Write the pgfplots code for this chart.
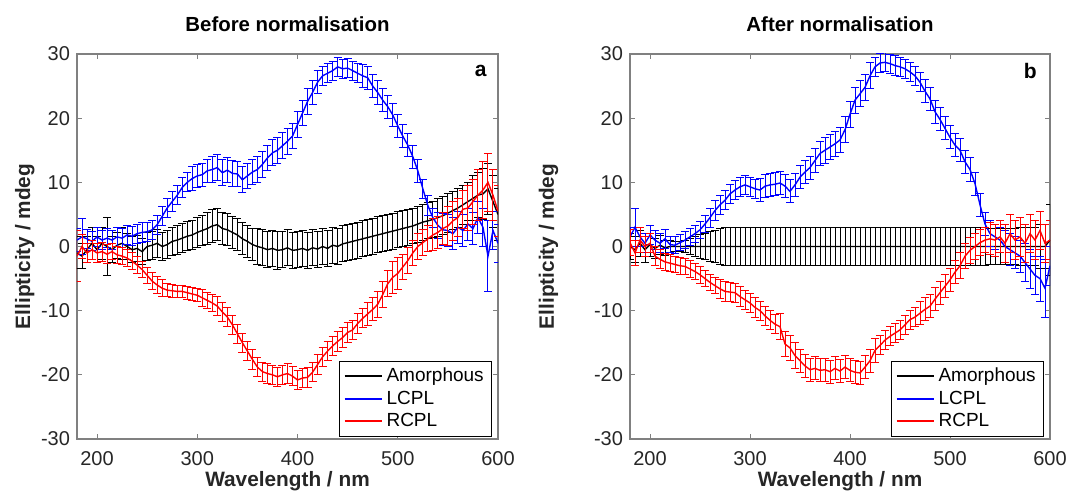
\documentclass[border=0pt]{standalone}
\usepackage{fontspec}
\setmainfont{Liberation Sans}
\usepackage{pgfplots}
\usepackage{pgfplotstable}
\pgfplotsset{compat=1.18}
\definecolor{axgray}{RGB}{128,128,128}
\definecolor{txt}{RGB}{38,38,38}

\pgfplotstableread{
x am ame lc lce rc rce
180 -1.0 2.5 1.0 1.8 -1.5 4.0
185 -1.5 2.0 1.5 2.8 0.0 1.8
190 -0.5 2.0 1.2 1.5 -1.0 1.5
195 0.5 2.5 0.8 1.5 -0.5 1.5
200 -0.5 2.0 1.5 1.5 -1.0 1.5
205 0.5 2.5 1.0 1.5 -0.8 1.5
210 0.0 4.5 1.3 1.5 -1.2 1.5
215 -0.5 2.0 1.0 1.5 -0.8 1.3
220 0.2 2.0 1.5 1.5 -1.3 1.3
225 0.5 2.5 1.3 1.5 -1.5 1.3
230 0.0 2.0 1.8 1.5 -1.8 1.3
235 -0.5 2.0 1.6 1.5 -2.3 1.3
240 -0.3 2.0 2.0 1.5 -2.9 1.3
245 -0.8 2.0 2.2 1.5 -3.6 1.3
250 0.0 2.2 2.3 1.5 -4.5 1.3
255 0.2 2.2 2.6 1.5 -5.4 1.3
260 0.5 2.2 3.4 1.5 -6.0 1.3
265 0.0 2.2 4.7 1.5 -6.5 1.3
270 0.3 2.2 6.0 1.5 -6.8 1.0
275 0.8 2.2 7.0 1.5 -6.9 1.0
280 1.0 2.3 8.0 1.5 -7.0 1.0
285 1.3 2.3 9.2 1.5 -7.0 1.0
290 1.6 2.3 10.0 1.5 -7.2 1.0
295 1.8 2.3 10.6 1.8 -7.4 1.0
300 2.2 2.3 11.0 1.8 -7.6 1.0
305 2.5 2.3 11.2 1.8 -8.0 1.3
310 2.8 2.5 11.8 1.8 -8.4 1.3
315 3.2 2.5 12.0 2.0 -8.8 1.3
320 3.4 2.5 12.3 2.0 -9.3 1.5
325 2.8 2.5 11.5 2.0 -10.2 1.5
330 2.6 2.5 11.9 2.0 -11.0 1.5
335 2.2 2.5 11.4 2.0 -12.2 1.5
340 1.8 2.5 11.3 2.0 -13.6 1.5
345 1.2 2.5 10.4 2.0 -15.0 1.5
350 0.8 2.5 11.0 2.0 -16.3 1.5
355 0.3 2.5 11.6 2.0 -17.6 1.5
360 0.0 2.8 12.0 2.0 -18.8 1.5
365 -0.2 2.8 12.8 2.0 -19.5 1.5
370 -0.5 2.8 13.8 2.0 -19.8 1.5
375 -0.3 2.8 14.6 2.0 -20.0 1.5
380 -0.6 3.0 15.0 2.0 -20.3 1.5
385 -0.5 2.8 15.7 2.0 -20.0 1.5
390 -0.2 2.8 16.4 2.0 -19.8 1.5
395 -0.6 2.8 17.2 2.0 -20.2 1.5
400 -0.5 2.8 19.0 2.0 -20.8 1.5
405 -0.3 2.8 20.8 2.0 -20.5 1.5
410 -0.6 2.8 22.6 2.0 -20.4 1.5
415 -0.2 2.8 24.0 1.8 -19.6 1.5
420 -0.4 2.8 25.6 1.8 -18.4 1.5
425 0.0 2.8 26.6 1.5 -17.2 1.5
430 -0.3 2.8 27.0 1.5 -16.3 1.5
435 0.2 2.8 27.4 1.5 -15.5 1.5
440 0.0 2.8 28.0 1.5 -14.8 1.5
445 0.4 2.8 27.7 1.5 -14.2 1.5
450 0.6 2.8 27.8 1.5 -13.4 1.5
455 0.8 2.8 27.4 1.5 -13.0 1.5
460 1.0 2.8 27.0 1.5 -12.0 1.5
465 1.2 2.8 26.6 1.8 -11.2 1.5
470 1.4 2.8 26.3 1.8 -10.5 1.8
475 1.6 2.8 25.0 1.8 -9.8 1.8
480 1.8 2.8 24.0 1.8 -9.0 2.0
485 2.0 2.8 22.8 1.8 -7.5 2.0
490 2.2 2.8 21.8 1.8 -5.8 2.0
495 2.4 2.8 20.5 1.8 -4.8 2.5
500 2.6 2.8 18.8 1.8 -4.2 2.5
505 2.8 2.8 17.2 1.8 -3.2 2.0
510 3.0 2.8 15.8 1.8 -2.2 2.0
515 3.2 2.8 14.0 1.8 -1.0 2.0
520 3.5 2.8 11.8 1.8 0.0 2.0
525 3.8 2.8 9.0 1.5 0.6 2.0
530 4.0 2.8 6.4 1.5 1.2 2.0
535 4.2 2.8 4.5 1.5 1.8 2.5
540 4.5 3.0 3.3 2.0 2.2 2.5
545 4.8 3.0 2.6 2.5 2.8 2.5
550 5.2 3.0 2.5 2.5 3.2 3.0
555 5.6 3.0 2.0 2.5 4.0 3.0
560 6.0 3.0 3.0 2.5 4.5 3.0
565 6.5 3.0 2.5 2.5 5.8 3.0
570 7.0 3.0 3.5 2.5 6.0 3.5
575 7.5 3.5 2.8 2.5 7.0 3.5
580 8.0 3.5 4.5 2.5 8.0 4.0
585 8.2 4.0 3.0 3.0 8.8 4.5
590 9.0 4.0 -1.5 5.5 10.0 4.5
595 7.0 4.0 2.5 3.0 8.0 4.0
600 5.0 4.0 0.5 3.0 5.5 4.0
}\tabA

\pgfplotstableread{
x am ame lc lce rc rce
180 0.0 2.0 1.5 1.5 0.6 2.0
185 -0.5 2.0 3.0 3.0 -1.0 2.0
190 0.5 2.0 1.5 1.5 1.0 2.0
195 -0.5 2.0 0.5 1.5 0.0 1.5
200 0.3 1.8 1.8 1.5 0.5 1.5
205 -0.3 1.5 1.0 1.5 -1.5 1.5
210 0.2 1.5 0.5 1.5 -2.0 1.5
215 -0.2 1.2 1.2 1.5 -2.4 1.3
220 0.0 1.0 0.3 1.3 -2.6 1.3
225 0.0 0.8 0.2 1.3 -2.8 1.3
230 0.0 0.8 0.6 1.3 -3.0 1.3
235 0.0 1.0 1.0 1.3 -3.1 1.3
240 0.0 1.2 1.5 1.3 -3.5 1.3
245 0.0 1.5 2.0 1.3 -3.9 1.3
250 0.0 1.8 2.6 1.3 -4.4 1.3
255 0.0 2.0 3.5 1.3 -5.0 1.3
260 0.0 2.3 4.5 1.5 -5.6 1.3
265 0.0 2.5 5.6 1.5 -6.1 1.3
270 0.0 2.8 6.5 1.5 -6.6 1.5
275 0.0 3.0 7.2 1.5 -7.0 1.5
280 0.0 3.0 8.2 1.5 -7.1 1.5
285 0.0 3.0 8.8 1.5 -7.2 1.5
290 0.0 3.0 9.3 1.5 -7.8 1.5
295 0.0 3.0 9.6 1.5 -8.3 1.5
300 0.0 3.0 9.3 1.5 -8.8 1.5
305 0.0 3.0 9.0 1.5 -9.5 1.5
310 0.0 3.0 8.8 1.8 -10.0 1.5
315 0.0 3.0 9.4 1.8 -10.8 1.5
320 0.0 3.0 9.6 1.8 -11.5 1.5
325 0.0 3.0 9.7 1.8 -12.1 1.5
330 0.0 3.0 9.9 1.8 -12.5 2.0
335 0.0 3.0 9.4 1.8 -15.2 2.0
340 0.0 3.0 8.6 1.8 -15.8 2.0
345 0.0 3.0 9.6 1.8 -17.0 2.0
350 0.0 3.0 10.8 1.8 -17.8 1.8
355 0.0 3.0 11.6 1.8 -18.6 1.8
360 0.0 3.0 12.3 1.8 -19.2 1.8
365 0.0 3.0 13.4 1.8 -19.0 1.8
370 0.0 3.0 14.5 1.8 -19.3 1.8
375 0.0 3.0 15.0 2.0 -19.2 1.8
380 0.0 3.0 15.5 2.0 -19.5 1.8
385 0.0 3.0 16.0 2.0 -19.0 1.8
390 0.0 3.0 16.6 2.0 -19.4 1.8
395 0.0 3.0 18.2 2.0 -18.8 1.8
400 0.0 3.0 20.6 2.0 -19.3 1.8
405 0.0 3.0 22.8 2.0 -19.6 1.8
410 0.0 3.0 23.8 2.0 -19.7 1.8
415 0.0 3.0 24.8 2.0 -18.8 1.8
420 0.0 3.0 26.6 2.0 -17.8 1.8
425 0.0 3.0 28.0 1.5 -16.2 1.8
430 0.0 3.0 28.6 1.5 -15.4 1.5
435 0.0 3.0 28.7 1.5 -14.6 1.5
440 0.0 3.0 28.5 1.5 -14.0 1.5
445 0.0 3.0 28.2 1.5 -13.5 1.5
450 0.0 3.0 28.0 1.5 -13.0 1.5
455 0.0 3.0 27.7 1.5 -12.2 1.5
460 0.0 3.0 27.2 1.5 -11.4 1.5
465 0.0 3.0 26.6 1.5 -11.0 1.5
470 0.0 3.0 25.6 1.5 -10.4 1.8
475 0.0 3.0 24.2 1.8 -9.8 1.8
480 0.0 3.0 23.0 1.8 -9.3 1.8
485 0.0 3.0 21.0 1.8 -8.2 1.8
490 0.0 3.0 19.8 1.8 -7.2 1.8
495 0.0 3.0 18.4 1.8 -6.2 1.8
500 0.0 3.0 17.0 1.8 -5.2 1.8
505 0.0 3.0 15.8 1.8 -4.0 1.8
510 0.0 3.0 15.0 1.8 -3.0 2.0
515 0.0 3.0 13.2 1.8 -1.5 2.0
520 0.0 3.0 12.0 1.8 -0.6 2.0
525 0.0 3.0 9.8 1.8 0.0 2.0
530 0.0 3.0 6.5 1.8 0.6 2.0
535 0.0 3.0 3.5 1.8 1.0 2.0
540 0.0 2.8 2.0 2.0 1.2 2.5
545 0.0 2.8 1.5 2.0 1.0 2.5
550 0.0 2.8 1.0 2.0 1.5 2.5
555 0.0 2.8 0.0 2.5 0.5 3.0
560 0.0 2.8 -0.5 2.5 2.0 3.0
565 0.0 2.8 -1.0 2.5 1.0 3.0
570 0.0 3.0 -1.5 2.5 1.5 3.0
575 0.0 3.0 -2.5 3.0 0.5 3.0
580 0.0 3.0 -3.5 3.0 2.0 3.0
585 0.0 3.0 -4.5 3.0 1.0 3.0
590 0.0 3.5 -5.0 3.5 2.5 3.0
595 0.0 3.5 -6.5 4.5 0.5 3.0
600 1.0 5.5 -3.0 3.0 1.0 3.0
}\tabB

\pgfplotsset{
  cdstyle/.style={
    scale only axis, height=192.5pt,
    xmin=180, xmax=600, ymin=-30, ymax=30,
    xtick={200,300,400,500,600}, ytick={-30,-20,-10,0,10,20,30},
    tick align=inside, major tick length=2.5pt,
    axis line style={axgray, line width=0.6pt},
    tick style={axgray, line width=0.5pt},
    /pgf/number format/assume math mode=true,
    ticklabel style={font=\fontsize{10}{12}\selectfont, text=txt},
    xticklabel style={anchor=base, yshift=-13pt},
    xlabel={\bfseries Wavelength / nm},
    ylabel={\bfseries Ellipticity / mdeg},
    label style={font=\fontsize{10.4}{12}\selectfont, text=txt},
    xlabel style={at={(axis description cs:0.5,-0.1221)}, anchor=base},
    title style={at={(axis description cs:0.5,1.0597)}, anchor=base, yshift=-6pt, font=\bfseries\fontsize{10.2}{12}\selectfont, text=black},
    legend style={at={(axis description cs:0.986,0.006)}, anchor=south east,
      font=\fontsize{9.5}{10.7}\selectfont,
      inner xsep=2pt, inner ysep=1.5pt, row sep=-1pt},
    legend cell align=left,
  },
  eb/.style={line width=0.7pt, error bars/.cd, y dir=both, y explicit,
    error bar style={line width=0.5pt},
    error mark options={rotate=90, mark size=2pt, line width=0.5pt},
    /pgfplots/.cd},
  limg/.style={legend image code/.code={\draw[#1, line width=1pt] (0pt,0pt) -- (18.5pt,0pt);}},
}

\begin{document}
\begin{tikzpicture}
\useasboundingbox (-38.5pt,-27pt) rectangle (496.5pt,219.5pt);
\begin{axis}[cdstyle, at={(0pt,0pt)}, anchor=south west, width=210.5pt,
  ylabel style={at={(axis description cs:-0.1116,0.5)}, anchor=base},
  title={Before normalisation}]
\addplot[color=black, forget plot, eb] table[x=x, y=am, y error=ame] {\tabA};
\addplot[color=blue, forget plot, eb] table[x=x, y=lc, y error=lce] {\tabA};
\addplot[color=red, forget plot, eb] table[x=x, y=rc, y error=rce] {\tabA};
\addlegendimage{limg=black}
\addlegendentry{Amorphous}
\addlegendimage{limg=blue}
\addlegendentry{LCPL}
\addlegendimage{limg=red}
\addlegendentry{RCPL}
\node[anchor=north east, inner sep=0pt, font=\bfseries\fontsize{10.5}{12}\selectfont] at (rel axis cs:1,1) [xshift=-5.5pt, yshift=-5.5pt] {a};
\end{axis}
\begin{axis}[cdstyle, at={(276.5pt,0pt)}, anchor=south west, width=210pt,
  ylabel style={at={(axis description cs:-0.181,0.5)}, anchor=base},
  title={After normalisation}]
\addplot[color=black, forget plot, eb] table[x=x, y=am, y error=ame] {\tabB};
\addplot[color=blue, forget plot, eb] table[x=x, y=lc, y error=lce] {\tabB};
\addplot[color=red, forget plot, eb] table[x=x, y=rc, y error=rce] {\tabB};
\addlegendimage{limg=black}
\addlegendentry{Amorphous}
\addlegendimage{limg=blue}
\addlegendentry{LCPL}
\addlegendimage{limg=red}
\addlegendentry{RCPL}
\node[anchor=north east, inner sep=0pt, font=\bfseries\fontsize{10.5}{12}\selectfont] at (rel axis cs:1,1) [xshift=-6.5pt, yshift=-4.5pt] {b};
\end{axis}
\end{tikzpicture}
\end{document}
